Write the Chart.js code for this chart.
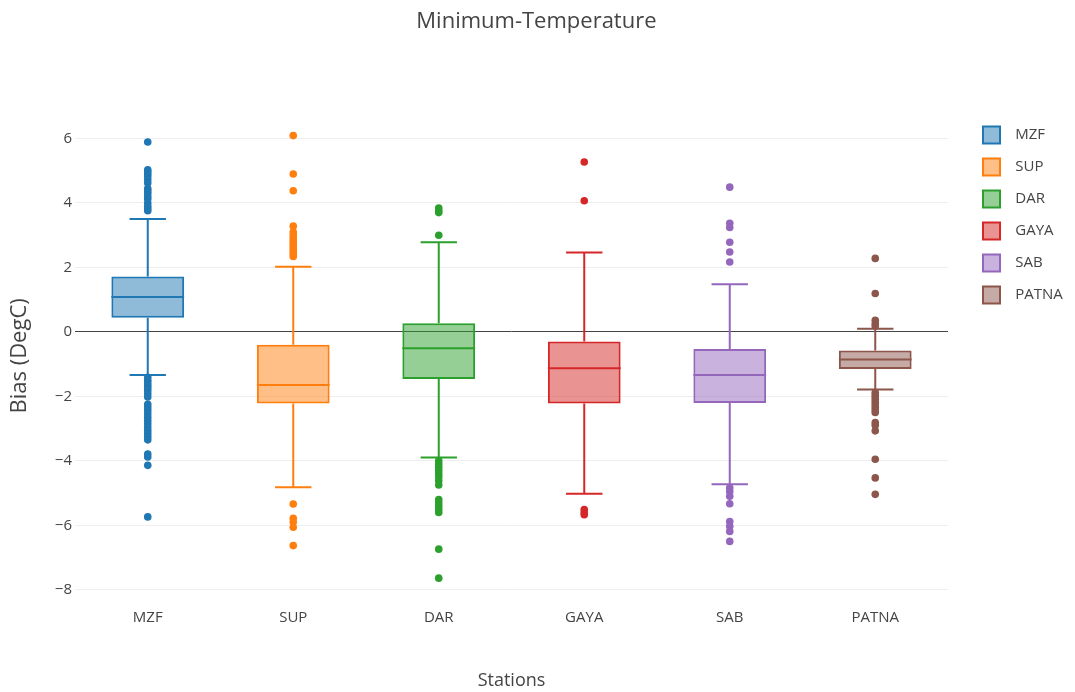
<!DOCTYPE html>
<html>
<head>
<meta charset="utf-8">
<script src="https://cdn.jsdelivr.net/npm/chart.js@4.4.1/dist/chart.umd.min.js"></script>
<style>
  html, body { margin: 0; padding: 0; background: #fff; }
  #wrap { width: 1075px; height: 692px; }
</style>
</head>
<body>
<div id="wrap"><canvas id="c"></canvas></div>
<script>
// Station box statistics (bias in DegC)
const stations = ['MZF', 'SUP', 'DAR', 'GAYA', 'SAB', 'PATNA'];
const q1 = [0.44, -2.22, -1.46, -2.22, -2.21, -1.15];
const medians = [1.08, -1.65, -0.51, -1.13, -1.34, -0.86];
const q3 = [1.72, -0.40, 0.27, -0.30, -0.53, -0.58];
const whiskerLow = [-1.34, -4.82, -3.90, -5.02, -4.73, -1.79];
const whiskerHigh = [3.50, 2.02, 2.78, 2.46, 1.48, 0.10];

// Points beyond the whiskers, per station
const outMZF = [5.89, 5.03, 4.97, 4.90, 4.82, 4.72, 4.62, 4.45, 4.38, 4.30, 4.20, 4.12, 4.00, 3.90, 3.82, 3.76,
  -1.41, -1.50, -1.58, -1.66, -1.74, -1.82, -1.92, -2.02, -2.25, -2.35, -2.45, -2.55, -2.65, -2.75, -2.85,
  -2.95, -3.05, -3.15, -3.25, -3.35, -3.79, -3.88, -4.14, -5.74];
const outSUP = [6.09, 4.90, 4.38, 3.28, 3.10, 3.00, 2.90, 2.82, 2.74, 2.66, 2.58, 2.50, 2.42, 2.34,
  -5.34, -5.78, -5.90, -6.06, -6.63];
const outDAR = [3.84, 3.76, 3.70, 3.00, -4.00, -4.10, -4.20, -4.30, -4.40, -4.50, -4.62, -4.75,
  -5.20, -5.30, -5.40, -5.50, -5.60, -6.74, -7.64];
const outGAYA = [5.27, 4.07, -5.51, -5.60, -5.67];
const outSAB = [4.49, 3.37, 3.24, 2.78, 2.48, 2.17, -4.84, -4.95, -5.10, -5.33, -5.88, -6.03, -6.19, -6.50];
const outPATNA = [2.28, 1.19, 0.36, 0.25, 0.18, -1.88, -1.95, -2.02, -2.10, -2.18, -2.26, -2.34, -2.42, -2.50,
  -2.81, -2.90, -3.07, -3.95, -4.53, -5.04];
const outliers = [outMZF, outSUP, outDAR, outGAYA, outSAB, outPATNA];

const yTicks = [-8, -6, -4, -2, 0, 2, 4, 6];

const colors = ['#1f77b4', '#ff7f0e', '#2ca02c', '#d62728', '#9467bd', '#8c564b'];
const fills = ['rgba(31,119,180,0.5)', 'rgba(255,127,14,0.5)', 'rgba(44,160,44,0.5)',
  'rgba(214,39,40,0.5)', 'rgba(148,103,189,0.5)', 'rgba(140,86,75,0.5)'];

const FONT = '"Open Sans", "Liberation Sans", sans-serif';
const TEXT = '#444';
const N = stations.length;
const LEGEND_LEFT = 968;   // left edge of the legend block
const LEGEND_GAP = 20;     // space between plot area and legend

// Boxes as floating bars spanning q1..q3, one dataset per station
const boxSets = stations.map((s, i) => ({
  type: 'bar',
  label: s,
  data: stations.map((_, j) => (j === i ? [q1[i], q3[i]] : null)),
  backgroundColor: fills[i],
  borderColor: colors[i],
  borderWidth: 2,
  borderSkipped: false,
  grouped: false,
  barPercentage: 0.5,
  categoryPercentage: 1,
  order: 2
}));

// Outlier markers
const pointSets = stations.map((s, i) => ({
  type: 'scatter',
  label: s + ' points',
  data: outliers[i].map(v => ({ x: s, y: v })),
  backgroundColor: colors[i],
  borderWidth: 0,
  pointRadius: 3.8,
  order: 1
}));

// Whiskers, caps and median lines, placed with the chart's own scales
const boxParts = {
  id: 'boxParts',
  beforeDatasetsDraw(chart) {
    const ctx = chart.ctx, y = chart.scales.y;
    ctx.save();
    ctx.lineWidth = 2;
    for (let i = 0; i < N; i++) {
      const bar = chart.getDatasetMeta(i).data[i];
      if (!bar) continue;
      const x = bar.x, half = bar.width / 4;
      ctx.strokeStyle = colors[i];
      ctx.beginPath();
      ctx.moveTo(x, y.getPixelForValue(q3[i]));
      ctx.lineTo(x, y.getPixelForValue(whiskerHigh[i]));
      ctx.moveTo(x, y.getPixelForValue(q1[i]));
      ctx.lineTo(x, y.getPixelForValue(whiskerLow[i]));
      ctx.moveTo(x - half, y.getPixelForValue(whiskerHigh[i]));
      ctx.lineTo(x + half, y.getPixelForValue(whiskerHigh[i]));
      ctx.moveTo(x - half, y.getPixelForValue(whiskerLow[i]));
      ctx.lineTo(x + half, y.getPixelForValue(whiskerLow[i]));
      ctx.stroke();
    }
    ctx.restore();
  },
  afterDatasetsDraw(chart) {
    const ctx = chart.ctx, y = chart.scales.y;
    ctx.save();
    ctx.lineWidth = 2;
    for (let i = 0; i < N; i++) {
      const bar = chart.getDatasetMeta(i).data[i];
      if (!bar) continue;
      const x = bar.x, half = bar.width / 2;
      const py = y.getPixelForValue(medians[i]);
      ctx.strokeStyle = colors[i];
      ctx.beginPath();
      ctx.moveTo(x - half, py);
      ctx.lineTo(x + half, py);
      ctx.stroke();
    }
    ctx.restore();
  }
};

const fmt = v => (v < 0 ? '\u2212' + Math.abs(v) : String(v));

const chart = new Chart(document.getElementById('c'), {
  type: 'bar',
  data: { labels: stations, datasets: [...boxSets, ...pointSets] },
  plugins: [boxParts],
  options: {
    responsive: true,
    maintainAspectRatio: false,
    animation: false,
    events: [],
    layout: { padding: { left: 0, right: 0, top: 0, bottom: 0 } },
    plugins: {
      title: {
        display: true,
        text: 'Minimum-Temperature',
        color: TEXT,
        font: { family: FONT, size: 22, weight: 'normal' },
        padding: { top: 9, bottom: 76 }
      },
      legend: {
        position: 'right',
        align: 'start',
        fullSize: false,
        labels: {
          color: TEXT,
          font: { family: FONT, size: 15 },
          boxWidth: 17,
          boxHeight: 17,
          padding: 15,
          filter: item => item.datasetIndex < N,
          generateLabels: ch => Chart.defaults.plugins.legend.labels.generateLabels(ch)
            .map(l => Object.assign(l, { text: '  ' + l.text }))
        }
      },
      tooltip: { enabled: false }
    },
    scales: {
      x: {
        type: 'category',
        grid: { display: false },
        border: { display: false },
        ticks: { color: TEXT, font: { family: FONT, size: 15 }, padding: 0 },
        title: {
          display: true,
          text: 'Stations',
          color: TEXT,
          font: { family: FONT, size: 18 },
          padding: { top: 44, bottom: 0 }
        }
      },
      y: {
        type: 'linear',
        min: -8.33,
        max: 6.84,
        afterBuildTicks: scale => { scale.ticks = yTicks.map(v => ({ value: v })); },
        afterFit: scale => { scale.width = 75; },
        grid: {
          drawTicks: false,
          color: c => (c.tick && c.tick.value === 0 ? '#444' : '#eee'),
          lineWidth: 1
        },
        border: { display: false },
        ticks: { color: TEXT, font: { family: FONT, size: 15 }, padding: 3, callback: fmt },
        title: {
          display: true,
          text: 'Bias (DegC)',
          color: TEXT,
          font: { family: FONT, size: 22 },
          padding: { top: 7, bottom: 0 }
        }
      },
      gap: {
        type: 'linear',
        position: 'right',
        display: true,
        grid: { display: false },
        border: { display: false },
        ticks: { display: false },
        afterFit: scale => { scale.width = LEGEND_GAP; }
      }
    }
  }
});

// Pin the legend block so it starts at LEGEND_LEFT
const extra = Math.max(0, (chart.width - LEGEND_LEFT) - chart.legend.width);
chart.options.layout.padding.right = extra;
chart.update();
</script>
</body>
</html>
